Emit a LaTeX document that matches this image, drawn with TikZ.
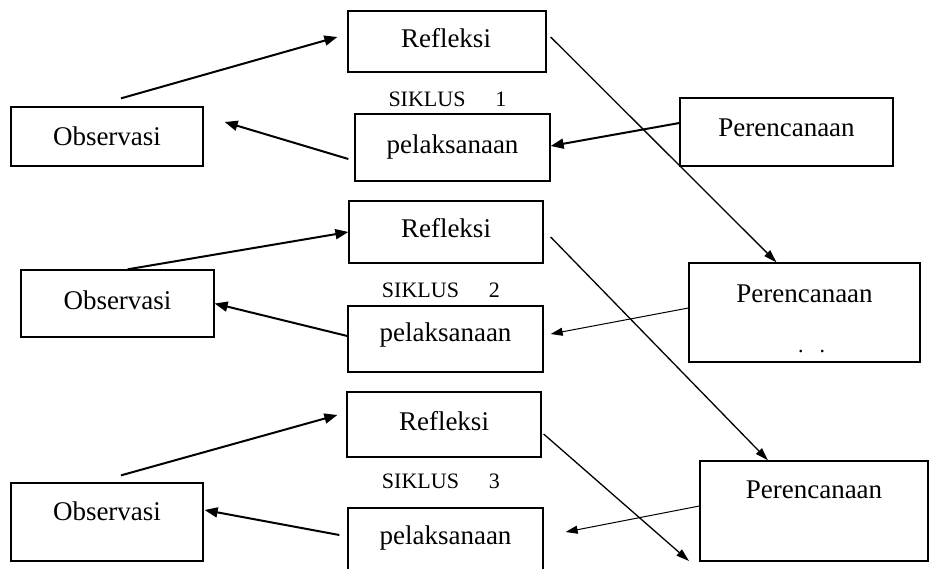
\documentclass[tikz,border=0pt]{standalone}
\usepackage{fontspec}
\setmainfont{Liberation Serif}
\usetikzlibrary{arrows.meta,calc}
\begin{document}
\begin{tikzpicture}[x=1pt,y=-1pt,
 box/.style={draw, line width=1.3pt, inner sep=0pt, font=\fontsize{27}{32}\selectfont},
 lbl/.style={font=\fontsize{27}{32}\selectfont, inner sep=0pt},
 siklus/.style={font=\fontsize{22}{26}\selectfont, inner sep=0pt},
 thickarr/.style={line width=2pt, -{Triangle[length=13pt,width=10pt]}},
 thinarr/.style={line width=1pt, -{Triangle[length=12pt,width=8pt]}},
 diagarr/.style={line width=1.3pt, -{Triangle[length=13pt,width=8pt]}},
]
\path[use as bounding box, fill=white] (0,0) rectangle (931,568);

% Row 1
\node[box, minimum width=198pt, minimum height=61pt] (ref1) at (447,41.5) {};
\node[lbl] (ref1t) at (446,38) {Refleksi};
\node[box, minimum width=192pt, minimum height=59pt] (obs1) at (107,136.5) {Observasi};
\node[box, minimum width=195pt, minimum height=67pt] (pel1) at (452.5,147.5) {pelaksanaan};
\node[box, minimum width=213pt, minimum height=68pt] (per1) at (786.5,132) {};
\node[lbl] (per1t) at (786.5,128) {Perencanaan};
\node[siklus] (sik1) at (447.5,99) {SIKLUS\hspace{30pt}1};

% Row 2
\node[box, minimum width=194pt, minimum height=62pt] (ref2) at (446,232) {};
\node[lbl] (ref2t) at (446,228) {Refleksi};
\node[box, minimum width=193pt, minimum height=67pt] (obs2) at (117.5,303.5) {};
\node[lbl] (obs2t) at (117.5,300) {Observasi};
\node[box, minimum width=195pt, minimum height=66pt] (pel2) at (445.5,339) {};
\node[lbl] (pel2t) at (445.5,335) {pelaksanaan};
\node[box, minimum width=231pt, minimum height=99pt] (per2) at (804.5,312.5) {};
\node[lbl] (per2t) at (804.5,294) {Perencanaan};
\node[font=\fontsize{22}{26}\selectfont, inner sep=0pt, anchor=base] (per2d) at (811.5,352) {.\hspace{16pt}.};
\node[siklus] (sik2) at (441,290) {SIKLUS\hspace{30pt}2};

% Row 3
\node[box, minimum width=194pt, minimum height=65pt] (ref3) at (444,424.5) {};
\node[lbl] (ref3t) at (444,421) {Refleksi};
\node[box, minimum width=192pt, minimum height=78pt] (obs3) at (107,522) {};
\node[lbl] (obs3t) at (107,511) {Observasi};
\node[box, minimum width=195pt, minimum height=80pt] (pel3) at (445.5,548) {};
\node[lbl] (pel3t) at (445.5,538) {pelaksanaan};
\node[box, minimum width=228pt, minimum height=100pt] (per3) at (814,511) {};
\node[lbl] (per3t) at (814,490) {Perencanaan};
\node[siklus] (sik3) at (441,481) {SIKLUS\hspace{30pt}3};
\coordinate (end3) at (689,561);

% Arrows row 1
\draw[thickarr] ([xshift=14pt,yshift=8pt]obs1.north) -- ([xshift=-10pt,yshift=4.5pt]ref1.west);
\draw[thickarr] ([xshift=-6pt,yshift=-11.5pt]pel1.west) -- ([xshift=21pt,yshift=14.5pt]obs1.east);
\draw[thickarr] ([yshift=9pt]per1.west) -- ([yshift=1.5pt]pel1.east);
\draw[diagarr] ([xshift=4pt,yshift=4.5pt]ref1.east) -- ([xshift=-28pt]per2.north);

% Arrows row 2
\draw[thickarr] ([xshift=10pt]obs2.north) -- (ref2.west);
\draw[thickarr] ([yshift=3pt]pel2.west) -- (obs2.east);
\draw[thinarr] ([yshift=4.5pt]per2.west) -- ([xshift=7pt,yshift=5pt]pel2.east);
\draw[diagarr] ([xshift=7pt,yshift=-5pt]ref2.east) -- ([xshift=-46pt]per3.north);

% Arrows row 3
\draw[thickarr] ([xshift=14pt,yshift=7pt]obs3.north) -- ([xshift=-9pt,yshift=9.5pt]ref3.west);
\draw[thickarr] ([xshift=-8pt,yshift=13pt]pel3.west) -- ([xshift=1pt,yshift=12pt]obs3.east);
\draw[thinarr] ([yshift=5pt]per3.west) -- ([xshift=22pt,yshift=16pt]pel3.east);
\draw[diagarr] ([xshift=2pt,yshift=-9.5pt]ref3.east) -- (end3);
\end{tikzpicture}
\end{document}
